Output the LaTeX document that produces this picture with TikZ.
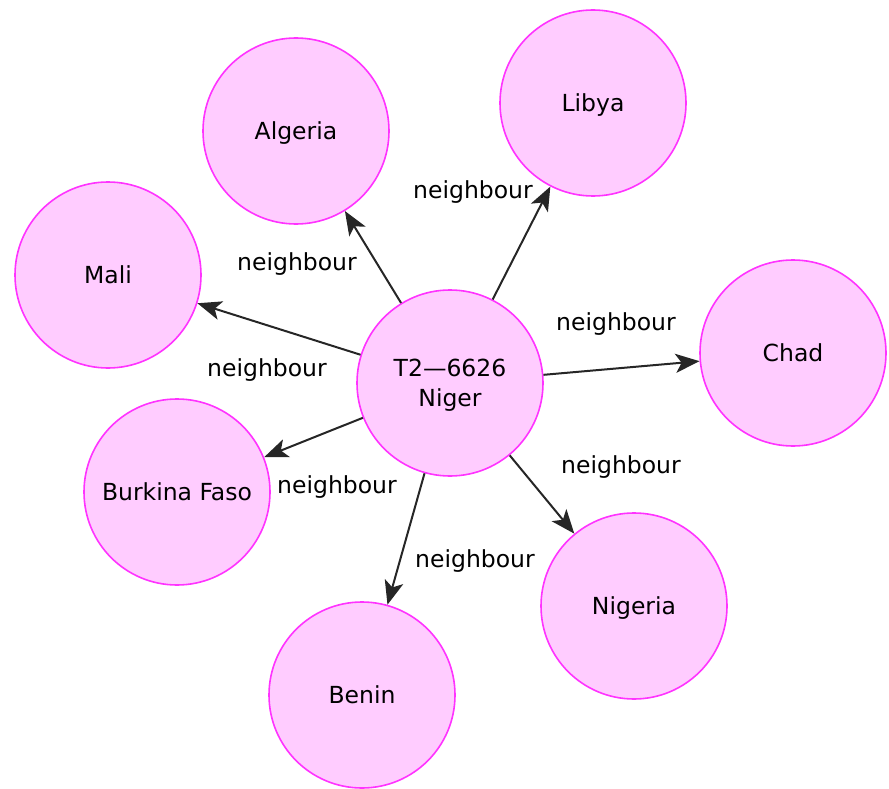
\documentclass[tikz,border=0pt]{standalone}
\usepackage{fontspec}
\setmainfont{DejaVu Sans}
\usetikzlibrary{arrows.meta}
\definecolor{nodefill}{HTML}{FFCCFF}
\definecolor{nodeline}{HTML}{FF33FF}
\begin{document}
\begin{tikzpicture}[x=1pt,y=-1pt,
  country/.style={circle,draw=nodeline,fill=nodefill,line width=1.6pt,minimum size=186pt,inner sep=0pt,font=\fontsize{23.5}{30}\selectfont,align=center,text depth=0pt},
  edgelabel/.style={font=\fontsize{23.5}{30}\selectfont,inner sep=0pt},
  link/.style={-{Stealth[length=24pt,width=19pt,inset=6pt]},line width=2pt,black!85}]
\useasboundingbox (0,0) rectangle (889,789);
\node[country] (niger) at (450,383) {T2—6626\\Niger};
\node[country] (algeria) at (296,131) {Algeria};
\node[country] (libya) at (593,103) {Libya};
\node[country] (mali) at (108,275) {Mali};
\node[country] (chad) at (793,353) {Chad};
\node[country] (burkina) at (177,492) {Burkina Faso};
\node[country] (nigeria) at (634,606) {Nigeria};
\node[country] (benin) at (362,695) {Benin};
\draw[link] (niger) -- (algeria);
\draw[link] (niger) -- (libya);
\draw[link] (niger) -- (mali);
\draw[link] (niger) -- (chad);
\draw[link] (niger) -- (burkina);
\draw[link] (niger) -- (nigeria);
\draw[link] (niger) -- (benin);
\node[edgelabel] (lalg) at (297,264) {neighbour};
\node[edgelabel] (llib) at (473,192) {neighbour};
\node[edgelabel] (lmal) at (267,370) {neighbour};
\node[edgelabel] (lcha) at (616,324) {neighbour};
\node[edgelabel] (lbur) at (337,487) {neighbour};
\node[edgelabel] (lnig) at (621,467) {neighbour};
\node[edgelabel] (lben) at (475,561) {neighbour};
\end{tikzpicture}
\end{document}
